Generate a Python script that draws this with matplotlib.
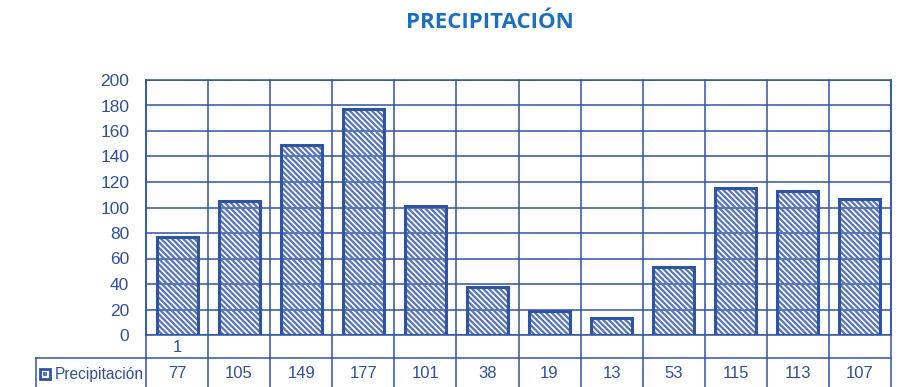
import matplotlib.pyplot as plt
from matplotlib.patches import Rectangle
from matplotlib.transforms import blended_transform_factory
import numpy as np

# monthly rainfall
categories = ['1', '', '', '', '', '', '', '', '', '', '', '']
values = [77, 105, 149, 177, 101, 38, 19, 13, 53, 115, 113, 107]
series_name = 'Precipitación'
title = 'PRECIPITACIÓN'
yticks = [0, 20, 40, 60, 80, 100, 120, 140, 160, 180, 200]

blue = '#2f54a6'
hatch_blue = '#5574bd'
text_blue = '#2d4f9e'
title_blue = '#1a6fc0'

plt.rcParams['font.family'] = ['Liberation Sans', 'DejaVu Sans']
plt.rcParams['hatch.linewidth'] = 1.6

fig = plt.figure(figsize=(9.16, 3.87), dpi=100)
ax = fig.add_axes([146 / 916, 1 - 335 / 387, 745 / 916, 255 / 387])

x = np.arange(len(values))
ax.bar(x, values, width=0.66, facecolor='none', edgecolor=hatch_blue,
       linewidth=0, hatch='\\\\\\\\\\\\', zorder=3)
# solid outline drawn separately so the hatch can stay lighter
ax.bar(x, values, width=0.66, facecolor='none', edgecolor=blue,
       linewidth=2.2, zorder=4)

ax.set_xlim(-0.5, len(values) - 0.5)
ax.set_ylim(0, 200)
ax.set_yticks(yticks)
ax.set_xticks([])
ax.tick_params(axis='y', length=0, pad=12, labelsize=12.5, labelcolor=text_blue)

# horizontal and column grid
for yv in yticks:
    ax.axhline(yv, color=blue, lw=1.1, zorder=1)
for s in ax.spines.values():
    s.set_color(blue)
    s.set_linewidth(1.1)

# table underneath the axis
tr = blended_transform_factory(ax.transData, ax.transAxes)
col = 745 / 12
row1 = -23 / 255
row2 = -60 / 255
left_cell = -0.5 - 110 / col
for xb in np.arange(-0.5, len(values), 1.0):
    ax.plot([xb, xb], [1, row2], color=blue, lw=1.1, transform=tr,
            clip_on=False, zorder=1)
ax.plot([left_cell, len(values) - 0.5], [row1, row1], color=blue, lw=1.1,
        transform=tr, clip_on=False)
ax.plot([left_cell, left_cell], [row1, row2], color=blue, lw=1.1,
        transform=tr, clip_on=False)

for xi, c in zip(x, categories):
    ax.text(xi, -12 / 255, c, transform=tr, ha='center', va='center',
            fontsize=12, color=text_blue)
for xi, v in zip(x, values):
    ax.text(xi, -39 / 255, str(v), transform=tr, ha='center', va='center',
            fontsize=12, color=text_blue)

# legend key in the left cell
key_x = left_cell + 4 / col
ax.add_patch(Rectangle((key_x, -44 / 255), 10 / col, 10 / 255,
                       transform=tr, clip_on=False, facecolor='white',
                       edgecolor=blue, lw=2))
ax.add_patch(Rectangle((key_x + 3 / col, -41 / 255), 4 / col, 4 / 255,
                       transform=tr, clip_on=False, facecolor=hatch_blue,
                       edgecolor='none'))
ax.text(left_cell + 19 / col, -39 / 255, series_name, transform=tr,
        ha='left', va='center', fontsize=11.2, color=text_blue)

fig.text(490 / 916, 1 - 22 / 387, title, ha='center', va='center',
         fontsize=16, fontweight='bold', color=title_blue,
         family=['Open Sans', 'DejaVu Sans'])

fig.savefig('out.png', dpi=100)
